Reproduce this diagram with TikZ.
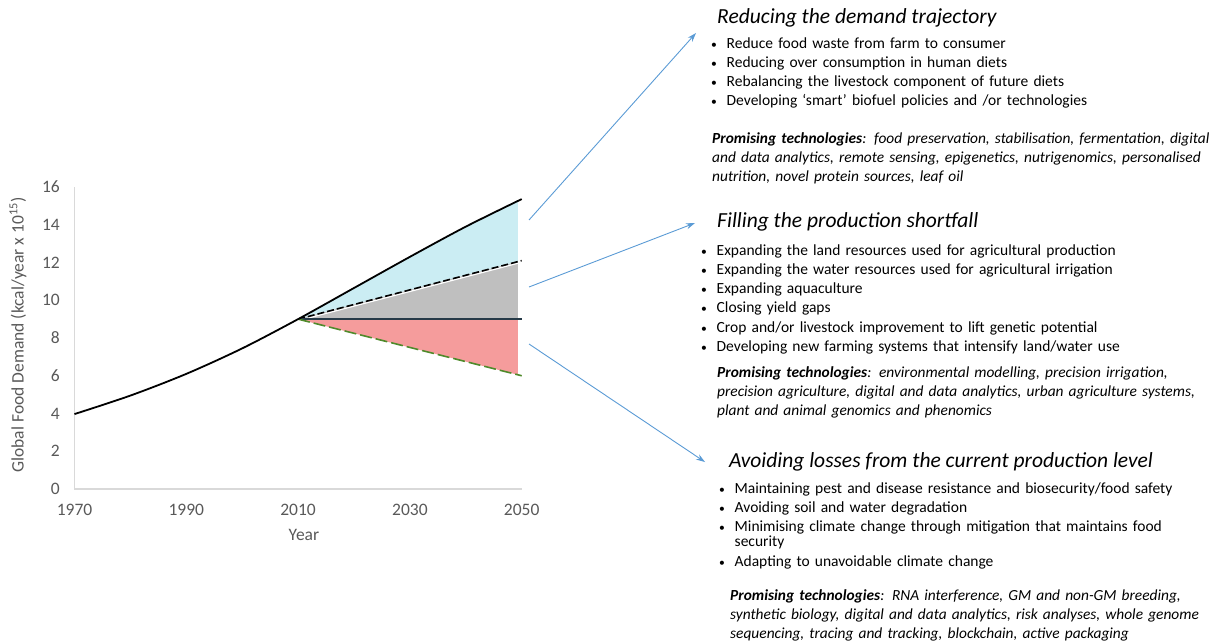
\documentclass[tikz,border=0pt]{standalone}
\usepackage{fontspec}
\setmainfont{Carlito}
\usetikzlibrary{arrows.meta,positioning}

\definecolor{arrowblue}{HTML}{5B9BD5}
\definecolor{fillblue}{HTML}{CBEDF3}
\definecolor{fillgray}{HTML}{BFBFBF}
\definecolor{fillpink}{HTML}{F59C9C}
\definecolor{axisgray}{HTML}{D9D9D9}
\definecolor{ticktext}{HTML}{595959}
\definecolor{leafgreen}{HTML}{4F8A2B}
\definecolor{slate}{HTML}{263A48}

\newcommand{\bul}{\makebox[15.5pt][l]{\scalebox{0.75}{\textbullet}}}
\newcommand{\demandpts}{(0,3.97) (10,4.95) (20,6.1) (30,7.45) (40,9) (50,10.65) (60,12.3) (70,13.9) (80,15.36)}

\begin{document}
\begin{tikzpicture}[x=1pt,y=-1pt,
    heading/.style={anchor=base west,inner sep=0pt,font=\fontsize{21.5}{25}\selectfont\itshape},
    bullets/.style={anchor=base west,inner sep=0pt,text width=520pt,align=left,font=\fontsize{15.5}{19.3}\selectfont},
    techs/.style={anchor=base west,inner sep=0pt,text width=510pt,align=left,font=\fontsize{15.4}{19.2}\selectfont\itshape},
    pointer/.style={draw=arrowblue,line width=0.9pt,-{Stealth[length=9pt,width=6pt]}},
    ticklabel/.style={text=ticktext,font=\fontsize{17.5}{20}\selectfont,inner sep=0pt}]
\useasboundingbox (0,0) rectangle (1228,640);

% chart, in years after 1970 and 10^15 kcal
\begin{scope}[shift={(74.5,489)},x=5.59pt,y=18.875pt]
  \begin{scope}
    \clip (40,0) rectangle (79.3,16);
    \fill[fillblue] plot[smooth] coordinates {\demandpts}
      -- (80,12.1) -- (40,9) -- cycle;
    \fill[fillgray] (40,9) -- (80,12.1) -- (80,9) -- cycle;
    \fill[fillpink] (40,9) -- (80,9) -- (80,6) -- cycle;
  \end{scope}
  \draw[axisgray,line width=1.3pt] (0,16) -- (0,0) -- (80,0);
  \foreach \v in {0,2,...,16}
    \node[ticklabel,anchor=east] (yt\v) at (-2.6,\v) {\v};
  \foreach \yr in {1970,1990,2010,2030,2050}
    \node[ticklabel,anchor=north] (xt\yr) at ({\yr-1970},-0.8) {\yr};
  \node[ticklabel,rotate=90] (ytitle) at (-10.1,8.16) {Global Food Demand (kcal/year x 10\textsuperscript{15})};
  \node[ticklabel] (xtitle) at (41.05,-2.44) {Year};
  % scenarios after 2010
  \draw[white,line width=1.2pt,yshift=-1.6pt] (40,9) -- (80,12.1);
  \draw[black,line width=1.6pt,dash pattern=on 7pt off 3pt] (40,9) -- (80,12.1);
  \draw[slate,line width=1.6pt] (40,9) -- (80,9);
  \draw[leafgreen,line width=1.6pt,dash pattern=on 12pt off 4pt] (40,9) -- (80,6);
  \draw[black,line width=1.8pt] plot[smooth] coordinates {\demandpts};
\end{scope}

% pointers
\coordinate (demand tail) at (529,220);
\coordinate (demand tip) at (696,33);
\coordinate (gap tail) at (529,287);
\coordinate (gap tip) at (695,223);
\coordinate (loss tail) at (529,344);
\coordinate (loss tip) at (705,462);
\draw[pointer] (demand tail) -- (demand tip);
\draw[pointer] (gap tail) -- (gap tip);
\draw[pointer] (loss tail) -- (loss tip);

% reducing demand
\node[heading] (demand) at (717,23) {Reducing the demand trajectory};
\node[bullets] (demand list) at (711,48) {\bul Reduce food waste from farm to consumer\\
  \bul Reducing over consumption in human diets\\
  \bul Rebalancing the livestock component of future diets\\
  \bul Developing ‘smart’ biofuel policies and /or technologies};
\node[techs] (demand tech) at (712,143) {\textbf{Promising technologies}: food preservation, stabilisation, fermentation, digital\\
  and data analytics, remote sensing, epigenetics, nutrigenomics, personalised\\
  nutrition, novel protein sources, leaf oil};

% production shortfall
\node[heading] (gap) at (717,227) {Filling the production shortfall};
\node[bullets] (gap list) at (701,255) {\bul Expanding the land resources used for agricultural production\\
  \bul Expanding the water resources used for agricultural irrigation\\
  \bul Expanding aquaculture\\
  \bul Closing yield gaps\\
  \bul Crop and/or livestock improvement to lift genetic potential\\
  \bul Developing new farming systems that intensify land/water use};
\node[techs] (gap tech) at (717,377) {\textbf{Promising technologies}: environmental modelling, precision irrigation,\\
  precision agriculture, digital and data analytics, urban agriculture systems,\\
  plant and animal genomics and phenomics};

% avoiding losses
\node[heading] (loss) at (729,467) {Avoiding losses from the current production level};
\node[bullets] (loss list) at (719,493) {\bul Maintaining pest and disease resistance and biosecurity/food safety\\
  \bul Avoiding soil and water degradation\\
  \bul Minimising climate change through mitigation that maintains food\\[-4pt]
  \hspace*{15.5pt}security\\
  \bul Adapting to unavoidable climate change};
\node[techs] (loss tech) at (730,600) {\textbf{Promising technologies}: RNA interference, GM and non-GM breeding,\\
  synthetic biology, digital and data analytics, risk analyses, whole genome\\
  sequencing, tracing and tracking, blockchain, active packaging};
\end{tikzpicture}
\end{document}
